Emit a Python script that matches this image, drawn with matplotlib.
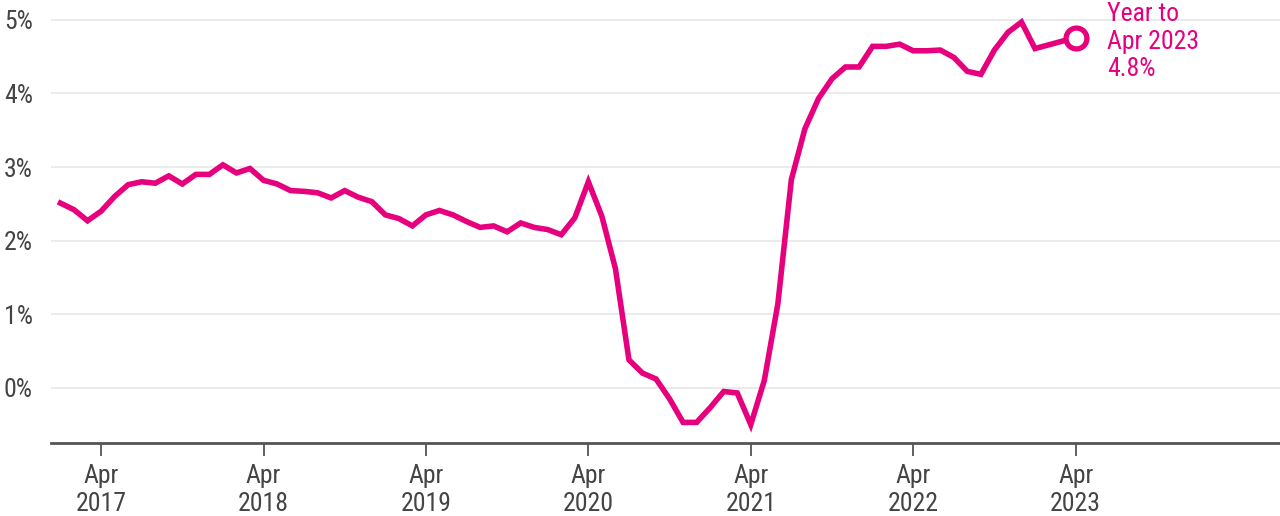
import matplotlib.pyplot as plt
from matplotlib import font_manager
import numpy as np
import pandas as pd

# prefer a condensed face if one is installed
installed = {f.name for f in font_manager.fontManager.ttflist}
narrow = [n for n in ["Roboto Condensed", "Liberation Sans Narrow", "Open Sans Condensed"]
          if n in installed]
plt.rcParams['font.family'] = narrow[:1] + ['Roboto', 'DejaVu Sans']

# monthly annual growth rate, Jan 2017 .. Apr 2023 (%)
months = pd.date_range("2017-01-01", "2023-04-01", freq="MS")
growth = [
    2.51, 2.42, 2.27, 2.40, 2.60, 2.76, 2.80, 2.78, 2.88, 2.77, 2.90, 2.90,   # 2017
    3.03, 2.92, 2.98, 2.82, 2.77, 2.68, 2.67, 2.65, 2.58, 2.68, 2.59, 2.53,   # 2018
    2.35, 2.30, 2.20, 2.35, 2.41, 2.35, 2.26, 2.18, 2.20, 2.12, 2.24, 2.18,   # 2019
    2.15, 2.08, 2.31, 2.80, 2.33, 1.62, 0.38, 0.20, 0.12, -0.15, -0.47, -0.47,  # 2020
    -0.27, -0.05, -0.07, -0.50, 0.10, 1.14, 2.83, 3.52, 3.93, 4.20, 4.36, 4.36,  # 2021
    4.64, 4.64, 4.67, 4.58, 4.58, 4.59, 4.49, 4.30, 4.26, 4.59, 4.83, 4.97,   # 2022
    4.61, 4.66, 4.71, 4.76,                                                   # 2023
]
yticks = [0, 1, 2, 3, 4, 5]
label_text = "Year to\nApr 2023\n4.8%"

pink = "#E6007E"
fs = 18.5 if narrow else 17
x = np.arange(len(months))

fig = plt.figure(figsize=(12.8, 5.16), dpi=100)
ax = fig.add_axes([51 / 1280, 1 - 443 / 516, 1 - 51 / 1280, 443 / 516])

ax.plot(x, growth, color=pink, lw=4, solid_joinstyle="miter", zorder=3)
ax.plot(x[-1], growth[-1], "o", ms=15, mfc="white", mec=pink, mew=3.8, zorder=4)
ax.text(x[-1] + 2.3, 5.24, label_text, color=pink, fontsize=fs,
        va="top", ha="left", linespacing=1.18)

ax.set_ylim(-0.75, 5.27)
ax.set_xlim(-0.7, 90.1)
ax.set_yticks(yticks)
ax.set_yticklabels([f"{t}%" for t in yticks], fontsize=fs, color="#444444")
ax.yaxis.grid(True, color="#e8e8e8", lw=1.2)
ax.tick_params(axis="y", length=0, pad=13)

apr = [i for i, m in enumerate(months) if m.month == 4]
ax.set_xticks(apr)
ax.set_xticklabels([f"Apr\n{months[i].year}" for i in apr], fontsize=fs,
                   color="#444444", linespacing=1.2)
ax.tick_params(axis="x", length=9, width=1.3, color="#555555", pad=6)

for s in ["top", "right", "left"]:
    ax.spines[s].set_visible(False)
ax.spines["bottom"].set_color("#555555")
ax.spines["bottom"].set_linewidth(2)
ax.set_axisbelow(True)

fig.savefig("out.png", dpi=100)
